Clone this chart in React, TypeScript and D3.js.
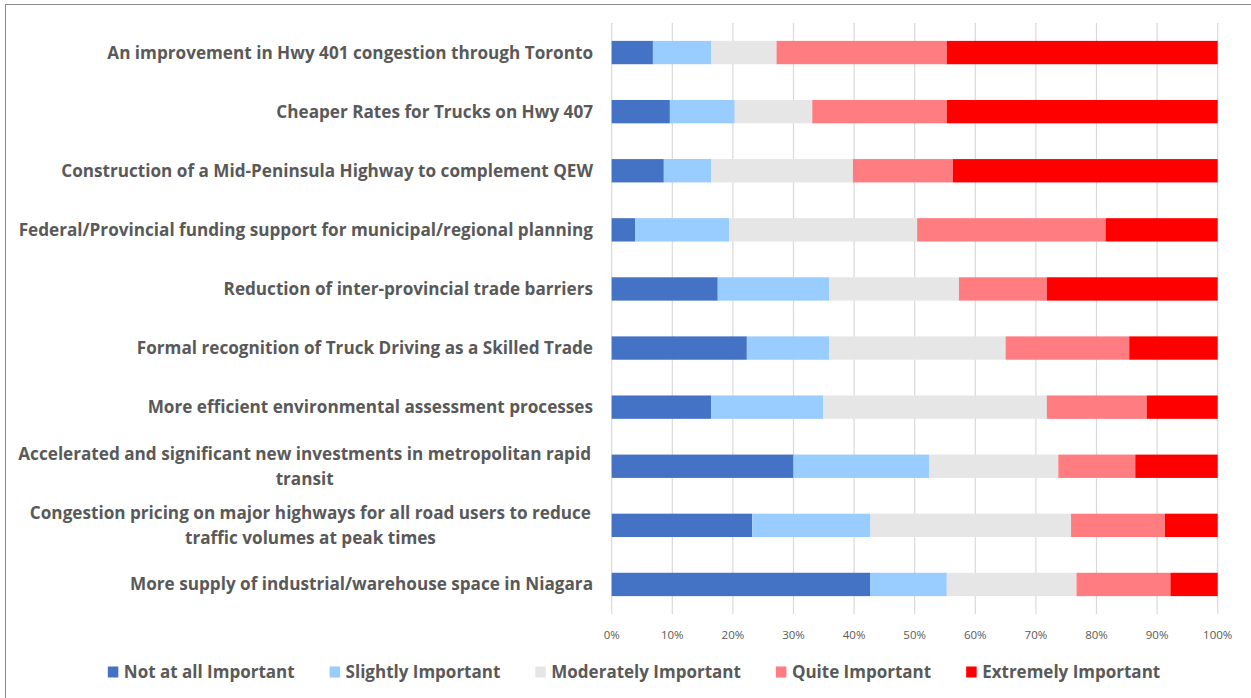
import React, { useEffect, useRef } from "react";
import * as d3 from "d3";

const categories: string[][] = [
  ["An improvement in Hwy 401 congestion through Toronto"],
  ["Cheaper Rates for Trucks on Hwy 407"],
  ["Construction of a Mid-Peninsula Highway to complement QEW"],
  ["Federal/Provincial funding support for municipal/regional planning"],
  ["Reduction of inter-provincial trade barriers"],
  ["Formal recognition of Truck Driving as a Skilled Trade"],
  ["More efficient environmental assessment processes"],
  ["Accelerated and significant new investments in metropolitan rapid", "transit"],
  ["Congestion pricing on major highways for all road users to reduce", "traffic volumes at peak times"],
  ["More supply of industrial/warehouse space in Niagara"],
];

const seriesNames = [
  "Not at all Important",
  "Slightly Important",
  "Moderately Important",
  "Quite Important",
  "Extremely Important",
];
const seriesColors = ["#4472C4", "#99CCFF", "#E6E6E6", "#FF7C80", "#FF0000"];

const notAtAll = [6.8, 9.6, 8.6, 3.9, 17.5, 22.3, 16.4, 30.0, 23.2, 42.7];
const slightly = [9.6, 10.7, 7.8, 15.5, 18.4, 13.6, 18.5, 22.4, 19.5, 12.6];
const moderately = [10.8, 12.8, 23.4, 31.0, 21.4, 29.1, 36.9, 21.3, 33.1, 21.4];
const quite = [28.1, 22.2, 16.5, 31.1, 14.5, 20.4, 16.5, 12.7, 15.5, 15.5];
const extremely = [44.7, 44.7, 43.7, 18.5, 28.2, 14.6, 11.7, 13.6, 8.7, 7.8];

const xTicks = [0, 0.1, 0.2, 0.3, 0.4, 0.5, 0.6, 0.7, 0.8, 0.9, 1];

const FONT = "'Open Sans', Lato, sans-serif";
const TEXT = "#595959";

export default function App() {
  const ref = useRef<SVGSVGElement>(null);

  useEffect(() => {
    const svg = d3.select(ref.current);
    svg.selectAll("*").remove();

    const W = 1251, H = 698;
    const left = 611.7, right = 1217.7, top = 23, bottom = 614;

    svg.append("rect").attr("x", 5.5).attr("y", 4.5).attr("width", W + 10).attr("height", H + 10)
      .attr("fill", "#fff").attr("stroke", "#8c8c8c").attr("stroke-width", 1);

    const x = d3.scaleLinear().domain([0, 1]).range([left, right]);
    const y = d3.scaleBand<number>().domain(d3.range(categories.length)).range([top, bottom]).paddingInner(0.605).paddingOuter(0.3025);

    const rows = categories.map((c, i) => {
      const vals = [notAtAll[i], slightly[i], moderately[i], quite[i], extremely[i]];
      const total = d3.sum(vals);
      const obj: any = { i };
      seriesNames.forEach((s, k) => (obj[s] = vals[k] / total));
      return obj;
    });
    const stacked = d3.stack<any>().keys(seriesNames)(rows);

    // gridlines
    svg.append("g").selectAll("line").data(xTicks).join("line")
      .attr("x1", (d) => x(d)).attr("x2", (d) => x(d))
      .attr("y1", top).attr("y2", bottom)
      .attr("stroke", "#D9D9D9").attr("stroke-width", 1.2);

    // bars
    svg.append("g").selectAll("g").data(stacked).join("g")
      .attr("fill", (_d, k) => seriesColors[k])
      .selectAll("rect").data((d) => d).join("rect")
      .attr("x", (d) => x(d[0]))
      .attr("width", (d) => x(d[1]) - x(d[0]))
      .attr("y", (d) => y(d.data.i)!)
      .attr("height", y.bandwidth());

    // x tick labels
    svg.append("g").selectAll("text").data(xTicks).join("text")
      .attr("x", (d) => x(d)).attr("y", 639)
      .attr("text-anchor", "middle")
      .attr("font-family", FONT).attr("font-size", 11.5).attr("fill", TEXT)
      .text((d) => d3.format(".0%")(d));

    // category labels
    const labelRight = 593;
    const labelWidth = 575;
    const lg = svg.append("g").attr("font-family", FONT).attr("font-size", 16)
      .attr("font-weight", "bold").attr("fill", TEXT);
    const probe = lg.append("text").text(categories[3][0]);
    const pw = (probe.node() as SVGTextElement).getComputedTextLength();
    probe.remove();
    const fs = 16 * labelWidth / pw;
    lg.attr("font-size", fs);

    categories.forEach((lines, i) => {
      const cy = y(i)! + y.bandwidth() / 2;
      if (lines.length === 1) {
        lg.append("text").attr("x", labelRight).attr("y", cy).attr("dy", "0.35em")
          .attr("text-anchor", "end").text(lines[0]);
      } else {
        const first = lg.append("text").attr("x", labelRight - 2).attr("y", cy - 12.5).attr("dy", "0.35em")
          .attr("text-anchor", "end").text(lines[0]);
        const w = (first.node() as SVGTextElement).getComputedTextLength();
        const cx = labelRight - 2 - w / 2;
        first.attr("text-anchor", "middle").attr("x", cx);
        lines.slice(1).forEach((ln, j) => {
          lg.append("text").attr("x", cx).attr("y", cy + 12.5 + j * 25).attr("dy", "0.35em")
            .attr("text-anchor", "middle").text(ln);
        });
      }
    });

    // legend (centred)
    const legend = svg.append("g").attr("font-family", FONT).attr("font-size", 17)
      .attr("font-weight", "bold").attr("fill", TEXT);
    const ly = 672;
    const sq = 10.5, textGap = 16, itemGap = 35;
    let lx = 0;
    const items = seriesNames.map((s, k) => {
      const g = legend.append("g");
      g.append("rect").attr("x", 0).attr("y", ly - 5.5).attr("width", sq).attr("height", 11)
        .attr("fill", seriesColors[k]);
      const t = g.append("text").attr("x", textGap).attr("y", ly).attr("dy", "0.35em").text(s);
      const w = (t.node() as SVGTextElement).getComputedTextLength();
      const pos = lx;
      lx += textGap + w + itemGap;
      return { g, pos };
    });
    const total = lx - itemGap;
    const start = 634 - total / 2;
    items.forEach(({ g, pos }) => g.attr("transform", `translate(${start + pos},0)`));
  }, []);

  return (
    <svg
      ref={ref}
      width={1251}
      height={698}
      style={{ position: "absolute", left: 0, top: 0, display: "block" }}
    />
  );
}
